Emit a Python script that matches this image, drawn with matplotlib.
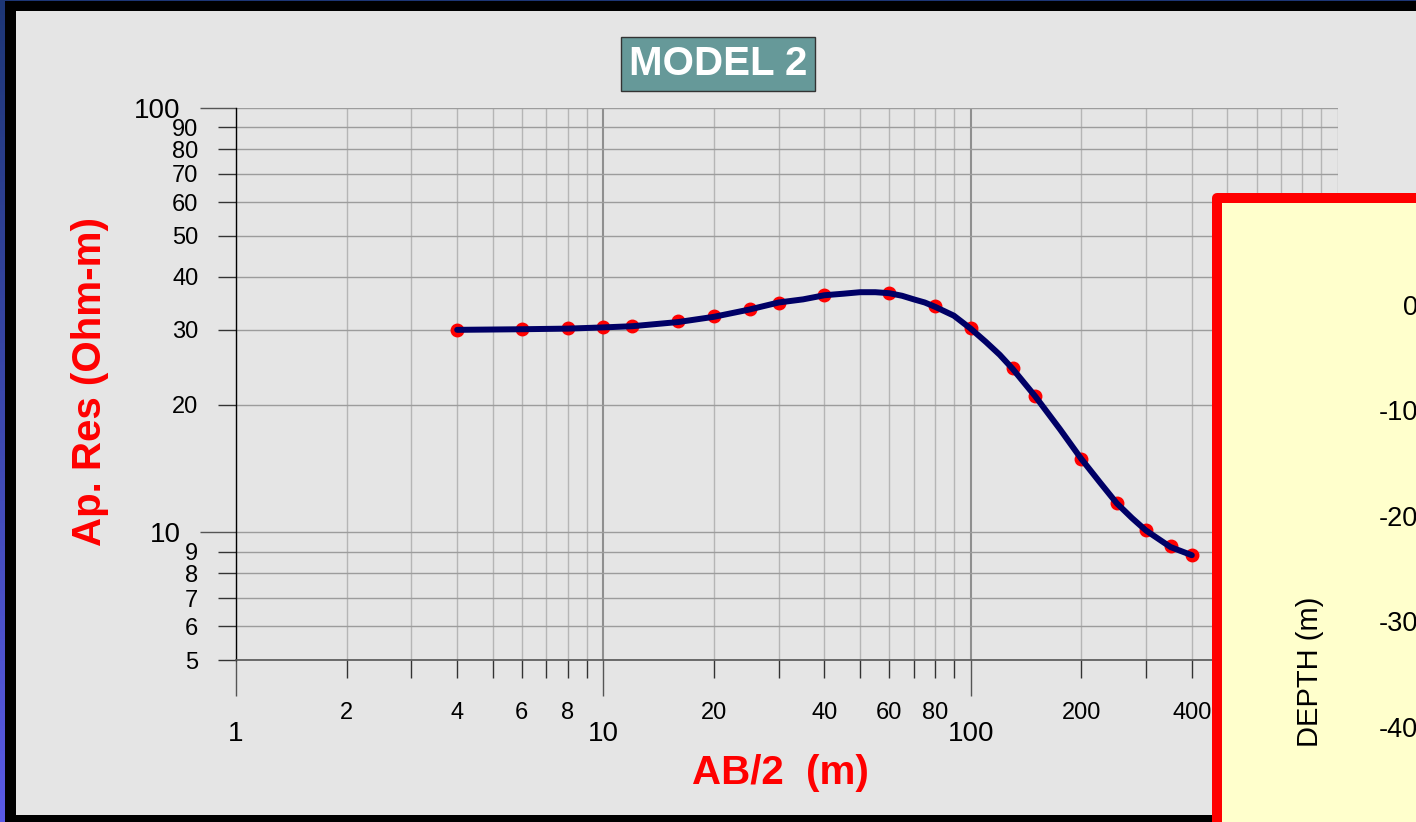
import numpy as np
import matplotlib
matplotlib.use("Agg")
import matplotlib.pyplot as plt
from matplotlib.patches import Rectangle
from matplotlib.colors import LinearSegmentedColormap

# --------------------
# Données du sondage
# --------------------
ab_half = [4, 6, 8, 10, 12, 16, 20, 25, 30, 40, 60, 80, 100, 130, 150, 200, 250, 300, 350, 400]
app_res = [30.0, 30.1, 30.3, 30.5, 30.7, 31.4, 32.3, 33.6, 34.7, 36.2, 36.6, 34.1, 30.3,
           24.4, 21.0, 14.9, 11.7, 10.1, 9.27, 8.83]

# courbe du modèle
model_ab = [4, 6, 8, 10, 12, 16, 20, 25, 30, 35, 40, 45, 50, 55, 60, 65, 70, 75, 80, 90, 100,
            110, 120, 130, 150, 175, 200, 225, 250, 275, 300, 350, 400]
model_res = [30.0, 30.1, 30.2, 30.4, 30.6, 31.3, 32.2, 33.5, 34.8, 35.4, 36.2, 36.5, 36.8,
             36.8, 36.6, 36.1, 35.4, 34.8, 34.0, 32.4, 30.2, 28.1, 26.2, 24.3, 20.9, 17.5,
             14.9, 13.1, 11.7, 10.8, 10.1, 9.23, 8.83]

x_major = [1, 10, 100]
x_minor = [2, 3, 4, 5, 6, 7, 8, 9, 20, 30, 40, 50, 60, 70, 80, 90,
           200, 300, 400, 500, 600, 700, 800, 900]
x_minor_labels = [2, 4, 6, 8, 20, 40, 60, 80, 200, 400]
y_major = [10, 100]
y_minor = [5, 6, 7, 8, 9, 20, 30, 40, 50, 60, 70, 80, 90]
depth_ticks = [0, -10, -20, -30, -40]

W, H = 1416, 822
plt.rcParams['font.family'] = ['Liberation Sans', 'DejaVu Sans']


def px(x0, y0, x1, y1):
    # rectangle en pixels (origine en haut à gauche) -> fraction de figure
    return [x0 / W, 1 - y1 / H, (x1 - x0) / W, (y1 - y0) / H]


fig = plt.figure(figsize=(W / 100, H / 100), dpi=100, facecolor='black')

# bord bleu à gauche (dégradé)
edge = fig.add_axes(px(0, 0, 5, H), zorder=-10)
edge.imshow(np.linspace(0, 1, 256).reshape(-1, 1), aspect='auto',
            cmap=LinearSegmentedColormap.from_list('edge', ['#1d3675', '#5a5ae6']))
edge.axis('off')
fig.add_artist(Rectangle((0, 1 - 1.5 / H), 1, 1.5 / H, transform=fig.transFigure,
                         facecolor='#1d3675', edgecolor='none', zorder=-9))

# panneau gris
fig.add_artist(Rectangle((16 / W, 1 - 815 / H), 1, (815 - 11) / H, transform=fig.transFigure,
                         facecolor='#e5e5e5', edgecolor='none', zorder=-5))

# --------------------
# Graphique principal
# --------------------
ax = fig.add_axes(px(236, 108, 1338, 660))
ax.set_facecolor('#e5e5e5')
ax.set_xscale('log')
ax.set_yscale('log')

ax.plot(ab_half, app_res, 'o', color='red', markersize=9, zorder=3)
ax.plot(model_ab, model_res, '-', color='#000066', lw=4.3,
        solid_joinstyle='round', solid_capstyle='round', zorder=4)

ax.set_xlim(1, 1000)
ax.set_ylim(5, 100)

ax.set_xticks(x_major)
ax.set_xticklabels([str(v) for v in x_major])
ax.set_xticks(x_minor, minor=True)
ax.set_xticklabels([str(v) if v in x_minor_labels else '' for v in x_minor], minor=True)
ax.set_yticks(y_major)
ax.set_yticklabels([str(v) for v in y_major])
ax.set_yticks(y_minor, minor=True)
ax.set_yticklabels([str(v) for v in y_minor], minor=True)

ax.tick_params(which='major', direction='out', length=26, width=1, color='#555555',
               labelsize=20, labelcolor='black')
ax.tick_params(which='minor', direction='out', length=13, width=1, color='#333333',
               labelsize=17, labelcolor='black')
ax.tick_params(axis='x', which='major', pad=18)
ax.tick_params(axis='x', which='minor', pad=17)
ax.tick_params(axis='y', which='both', pad=14)

ax.xaxis.grid(True, which='minor', color='#b5b5b5', lw=1)
ax.xaxis.grid(True, which='major', color='#8f8f8f', lw=1.5)
ax.yaxis.grid(True, which='both', color='#9c9c9c', lw=1)
# ligne verticale à 1000 (bord droit de la grille)
ax.axvline(1000, color='#b5b5b5', lw=1, zorder=0.5)
ax.set_axisbelow(True)

for s in ['top', 'right']:
    ax.spines[s].set_visible(False)
ax.spines['left'].set_color('black')
ax.spines['left'].set_linewidth(1)
ax.spines['bottom'].set_color('#555555')
ax.spines['bottom'].set_linewidth(1.2)

ax.set_ylabel('Ap. Res (Ohm-m)', color='red', fontsize=29, fontweight='bold', va='center')
ax.yaxis.set_label_coords(90 / W, 1 - 381 / H, transform=fig.transFigure)
ax.set_xlabel('AB/2  (m)', color='red', fontsize=29, fontweight='bold', va='center')
ax.xaxis.set_label_coords(780 / W, 1 - 773 / H, transform=fig.transFigure)

ax.set_title('MODEL 2', fontsize=29, fontweight='bold', color='white',
             x=(718 - 236) / (1338 - 236), pad=24,
             bbox=dict(boxstyle='square,pad=0.2', facecolor='#669999',
                       edgecolor='#333333', linewidth=1))

# --------------------
# Panneau de profondeur (à droite, coupé)
# --------------------
fig.add_artist(Rectangle((1217 / W, -0.1), 1, 1 - 198 / H + 0.1, transform=fig.transFigure,
                         facecolor='#ffffcc', edgecolor='red', linewidth=7.2,
                         joinstyle='round', zorder=5))

ax2 = fig.add_axes(px(1418, 252, 1500, 832.5))
ax2.set_zorder(10)
ax2.set_facecolor('none')
ax2.set_ylim(-50, 5)
ax2.set_xticks([])
ax2.set_yticks(depth_ticks)
ax2.set_yticklabels([str(v) for v in depth_ticks])
ax2.tick_params(axis='y', length=0, pad=0, labelsize=19.5)
for s in ax2.spines.values():
    s.set_visible(False)
ax2.set_ylabel('DEPTH (m)', fontsize=21, va='center')
ax2.yaxis.set_label_coords(1310 / W, 1 - 672 / H, transform=fig.transFigure)

fig.savefig('out.png', dpi=100, facecolor=fig.get_facecolor())
